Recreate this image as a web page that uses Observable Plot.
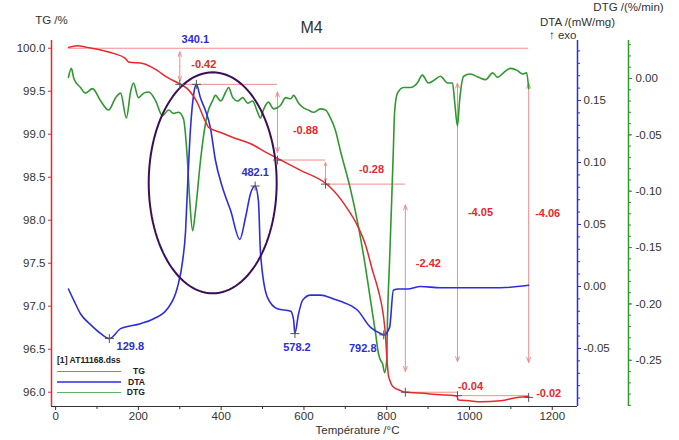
<!DOCTYPE html>
<html><head><meta charset="utf-8">
<script src="https://cdn.jsdelivr.net/npm/d3@7"></script>
<script src="https://cdn.jsdelivr.net/npm/@observablehq/plot@0.6"></script>
<style>
html,body{margin:0;padding:0;background:#fff;}
#wrap{position:relative;width:679px;height:440px;overflow:hidden;}
#legend{position:absolute;left:57px;top:355px;font:bold 8.6px "Liberation Sans",Arial,sans-serif;color:#222;}
#legend .row{display:flex;align-items:center;height:10.5px;}
#legend .sw{display:inline-block;width:64px;height:1.5px;}
#legend .lb{display:inline-block;width:24px;text-align:right;}
</style></head>
<body><div id="wrap"><div id="chart"></div><div id="legend"></div></div>
<script>
// ---------- data ----------
const tgTemp = [31,53,77,109,140,169,176,213,246,270,298,318,343,358,370,399,430,471,512,536,592,652,664,700,729,749,766,780,792,797,800,804,809,814,833,845,880,930,966,970,973,1000,1027,1075,1116,1143];
const tgMass = [100.01,100.03,100.01,99.98,99.94,99.88,99.84,99.82,99.74,99.66,99.59,99.53,99.36,99.19,99.08,99.02,98.96,98.89,98.78,98.72,98.58,98.43,98.38,98.17,97.94,97.71,97.41,97.18,96.89,96.66,96.43,96.20,96.12,96.07,96.02,96.00,95.99,95.97,95.96,95.95,95.91,95.90,95.89,95.90,95.94,95.95];

const dtaTemp = [31,45,60,85,109,130,157,205,237,270,294,307,314,318,326,334,340,350,362,374,386,403,423,445,459,471,482,490,495,512,536,568,575,578,587,597,616,640,671,688,729,761,785,793,807,816,828,850,882,930,1010,1075,1143];
const dtaSignal = [-0.002,-0.012,-0.022,-0.031,-0.038,-0.042,-0.034,-0.030,-0.026,-0.018,-0.001,0.021,0.045,0.075,0.128,0.156,0.163,0.152,0.142,0.128,0.102,0.080,0.061,0.038,0.056,0.075,0.081,0.069,0.027,-0.009,-0.018,-0.020,-0.027,-0.038,-0.022,-0.011,-0.007,-0.007,-0.010,-0.012,-0.019,-0.033,-0.038,-0.039,-0.033,-0.003,-0.002,-0.002,0.000,-0.001,-0.001,-0.001,0.001];

const dtgTemp = [31,38,44,60,72,89,109,128,145,157,171,181,188,200,213,225,242,258,273,285,297,309,318,324,331,338,350,357,367,379,386,399,411,418,428,440,452,464,476,486,495,502,514,527,543,556,568,575,587,599,611,623,640,652,664,676,688,713,732,749,761,773,780,785,790,795,800,802,807,812,816,819,826,841,857,874,886,901,913,930,947,959,964,971,976,986,1002,1022,1039,1056,1068,1082,1099,1116,1128,1138,1143];
const dtgRate = [0.001,0.009,0.000,-0.008,-0.013,-0.009,-0.020,-0.028,-0.017,-0.013,-0.035,-0.012,-0.004,-0.017,-0.013,-0.012,-0.020,-0.033,-0.028,-0.031,-0.030,-0.036,-0.070,-0.108,-0.135,-0.117,-0.073,-0.052,-0.031,-0.020,-0.015,-0.020,-0.012,-0.008,-0.017,-0.020,-0.017,-0.022,-0.020,-0.028,-0.035,-0.028,-0.021,-0.027,-0.024,-0.017,-0.018,-0.015,-0.022,-0.026,-0.028,-0.030,-0.027,-0.028,-0.035,-0.046,-0.064,-0.099,-0.132,-0.168,-0.197,-0.226,-0.244,-0.250,-0.253,-0.261,-0.250,-0.212,-0.161,-0.108,-0.064,-0.030,-0.013,-0.008,-0.008,-0.004,0.003,-0.004,-0.002,0.002,-0.004,-0.004,-0.020,-0.042,-0.020,0.002,0.004,0.001,-0.001,0.005,0.001,0.005,0.009,0.007,0.004,0.005,-0.009];

const dtaPeakTemp = [129.8, 340.1, 482.1, 578.2, 792.8];
const dtaPeakValue = [-0.042, 0.163, 0.081, -0.038, -0.039];

const stepStartTemp = 31;
const stepTemp = [300, 536, 652, 845, 971, 1143];
const stepLoss = [-0.42, -0.88, -0.28, -2.42, -0.04, -0.02];
const totalTemp = [971, 1143];
const totalLoss = [-4.05, -4.06];

const xTicks = [0, 200, 400, 600, 800, 1000, 1200];
const tgTicks = [96.0, 96.5, 97.0, 97.5, 98.0, 98.5, 99.0, 99.5, 100.0];
const dtaTicks = [-0.05, 0.00, 0.05, 0.10, 0.15];
const dtgTicks = [-0.25, -0.20, -0.15, -0.10, -0.05, 0.00];
const legendNames = ["TG", "DTA", "DTG"];
const fileName = "[1] AT11168.dss";

// ---------- scales ----------
const tgDomain = [95.834, 100.09];
const dtaDomain = [-0.0968, 0.1984];
const dtgDomain = [-0.2910, 0.0337];
const xDomain = [-10, 1261];
const lin = (a, b) => v => b[0] + (v - a[0]) / (a[1] - a[0]) * (b[1] - b[0]);
const dta2tg = lin(dtaDomain, tgDomain), tg2dta = lin(tgDomain, dtaDomain);
const dtg2tg = lin(dtgDomain, tgDomain), tg2dtg = lin(tgDomain, dtgDomain);
const fmt2 = v => { let r = Math.round(v * 100) / 100; if (r === 0) r = 0; return r.toFixed(2); };

const RED = "#e8282a", BLUE = "#2d2de0", GREEN = "#2f982f", PINK = "#f28c8c", PURPLE = "#3a0f57", INK = "#333";

const tgData = tgTemp.map((t, i) => ({t, v: tgMass[i]}));
const dtaData = dtaTemp.map((t, i) => ({t, v: dta2tg(dtaSignal[i])}));
const dtgData = dtgTemp.map((t, i) => ({t, v: dtg2tg(dtgRate[i])}));
const peaks = dtaPeakTemp.map((t, i) => ({t, v: dta2tg(dtaPeakValue[i])}));

const levels = [100];
stepLoss.forEach(d => levels.push(+(levels[levels.length - 1] + d).toFixed(4)));
const steps = stepTemp.map((t, k) => ({t, top: levels[k], bottom: levels[k + 1], loss: stepLoss[k]}));
const totals = totalTemp.map((t, i) => ({t, top: 100, bottom: 100 + totalLoss[i], loss: totalLoss[i]}));
const hRules = [{y: levels[0], x1: stepStartTemp, x2: stepTemp[stepTemp.length - 1]}]
  .concat(stepTemp.slice(0, -1).map((t, k) => ({y: levels[k + 1], x1: t, x2: stepTemp[k + 1]})));
const verticals = steps.filter(s => Math.abs(s.loss) >= 0.1).concat(totals);
const halfArrows = verticals.flatMap(a => {
  const span = a.top - a.bottom, t = a.top - 0.1 * span, b = a.bottom + 0.1 * span, m = (t + b) / 2;
  return [{x: a.t, y1: m, y2: t}, {x: a.t, y1: m, y2: b}];
});
const stepMarks = steps.map(s => ({t: s.t, v: s.bottom}));

// ellipse annotation (center / radii in data units)
const ell = {t: 379.5, v: 98.435, rt: 154.6, rv: 1.285};
const ellipsePts = d3.range(0, 361, 3).map(a => ({t: ell.t + ell.rt * Math.cos(a * Math.PI / 180), v: ell.v + ell.rv * Math.sin(a * Math.PI / 180)}));

// label pixel offsets
const peakOff = [[21, 8], [-1, -45], [0, -14], [2, 14], [-21, 14]];
const stepOff = [[24, -2], [28, 8], [46, -3], [23, -25], [13, -7], [20, -3]];
const totalOff = [[23, -10], [19, -9]];

const bold = {fontWeight: "bold", fontSize: 11};
const lbl = {text: d => d, lineAnchor: "middle", fill: INK};

const chart = Plot.plot({
  width: 679, height: 440,
  marginLeft: 51, marginRight: 102, marginTop: 40, marginBottom: 34,
  x: {domain: xDomain, axis: null},
  y: {domain: tgDomain, axis: null},
  style: {fontFamily: "'Liberation Sans', Arial, sans-serif", fontSize: "11.5px", color: INK, background: "#fff", overflow: "visible"},
  marks: [
    // annotation lines
    Plot.ruleY(hRules, {y: "y", x1: "x1", x2: "x2", stroke: PINK, strokeWidth: 1}),
    Plot.arrow(halfArrows, {x1: "x", x2: "x", y1: "y1", y2: "y2", stroke: PINK, strokeWidth: 1, headLength: 8, headAngle: 40}),
    // curves
    Plot.line(dtgData, {x: "t", y: "v", stroke: GREEN, strokeWidth: 1.6, curve: "monotone-x"}),
    Plot.line(dtaData, {x: "t", y: "v", stroke: BLUE, strokeWidth: 1.6, curve: "monotone-x"}),
    Plot.line(tgData, {x: "t", y: "v", stroke: RED, strokeWidth: 1.5, curve: "monotone-x"}),
    Plot.line(ellipsePts, {x: "t", y: "v", stroke: PURPLE, strokeWidth: 2}),
    Plot.dot(peaks, {x: "t", y: "v", symbol: "plus", r: 3, stroke: "#555", strokeWidth: 1}),
    Plot.dot(stepMarks, {x: "t", y: "v", symbol: "plus", r: 3, stroke: "#555", strokeWidth: 1}),
    // labels
    ...peaks.map((p, i) => Plot.text([p], {x: "t", y: "v", text: d => d.t.toFixed(1), dx: peakOff[i][0], dy: peakOff[i][1], fill: BLUE, ...bold})),
    ...steps.map((s, i) => Plot.text([s], {x: "t", y: d => (d.top + d.bottom) / 2, text: d => d.loss.toFixed(2), dx: stepOff[i][0], dy: stepOff[i][1], fill: RED, ...bold})),
    ...totals.map((s, i) => Plot.text([s], {x: "t", y: d => (d.top + d.bottom) / 2, text: d => d.loss.toFixed(2), dx: totalOff[i][0], dy: totalOff[i][1], fill: RED, ...bold})),
    // axes
    Plot.ruleY([tgDomain[0]], {stroke: INK, strokeWidth: 1.2}),
    Plot.axisX(xTicks, {tickSize: 4, tickPadding: 1, stroke: INK, fill: INK, tickFormat: d => String(d), label: null}),
    Plot.axisX(xTicks.slice(0, -1).map(d => d + 100), {tickSize: 3, stroke: INK, tickFormat: () => "", label: null}),
    Plot.ruleX([xDomain[0]], {stroke: RED, strokeWidth: 1.5}),
    Plot.axisY(tgTicks, {anchor: "left", tickSize: 3, tickPadding: 3, stroke: RED, fill: INK, tickFormat: d => d.toFixed(1), label: null}),
    Plot.ruleX([xDomain[1]], {stroke: BLUE, strokeWidth: 1.5}),
    Plot.axisY(dtaTicks.map(dta2tg), {anchor: "right", tickSize: 3, tickPadding: 3, stroke: BLUE, fill: INK, tickFormat: v => fmt2(tg2dta(v)), label: null}),
    Plot.axisY(d3.range(-9, 20).map(i => dta2tg(i / 100)), {anchor: "right", tickSize: 2, stroke: BLUE, tickFormat: () => "", label: null}),
    Plot.ruleX([xDomain[1]], {stroke: GREEN, strokeWidth: 1.5, dx: 51}),
    Plot.axisY(dtgTicks.map(dtg2tg), {anchor: "right", dx: 51, tickSize: 3, tickPadding: 4, stroke: GREEN, fill: INK, tickFormat: v => fmt2(tg2dtg(v)), label: null}),
    Plot.axisY(d3.range(-29, 4).map(i => dtg2tg(i / 100)), {anchor: "right", dx: 51, tickSize: 2, stroke: GREEN, tickFormat: () => "", label: null}),
    // titles
    Plot.text(["M4"], {frameAnchor: "top", ...lbl, dx: -3, dy: -13, fontSize: 16}),
    Plot.text(["TG /%"], {frameAnchor: "top-left", ...lbl, textAnchor: "middle", dy: -20}),
    Plot.text(["DTA /(mW/mg)"], {frameAnchor: "top-right", ...lbl, textAnchor: "middle", dy: -18}),
    Plot.text(["\u2191 exo"], {frameAnchor: "top-right", ...lbl, textAnchor: "end", dx: -1, dy: -5}),
    Plot.text(["DTG /(%/min)"], {frameAnchor: "top-right", ...lbl, textAnchor: "middle", dx: 51, dy: -33}),
    Plot.text(["Température /°C"], {frameAnchor: "bottom", ...lbl, dx: 43, dy: 24})
  ]
});
document.getElementById("chart").appendChild(chart);

// legend
const legendColors = [RED, BLUE, GREEN];
const lg = document.getElementById("legend");
const title = document.createElement("div");
title.textContent = fileName;
title.style.height = "11px";
lg.appendChild(title);
legendNames.forEach((n, i) => {
  const row = document.createElement("div"); row.className = "row";
  const sw = document.createElement("span"); sw.className = "sw"; sw.style.background = legendColors[i]; sw.style.opacity = "0.75";
  const lb = document.createElement("span"); lb.className = "lb"; lb.textContent = n;
  row.appendChild(sw); row.appendChild(lb); lg.appendChild(row);
});
</script></body></html>
